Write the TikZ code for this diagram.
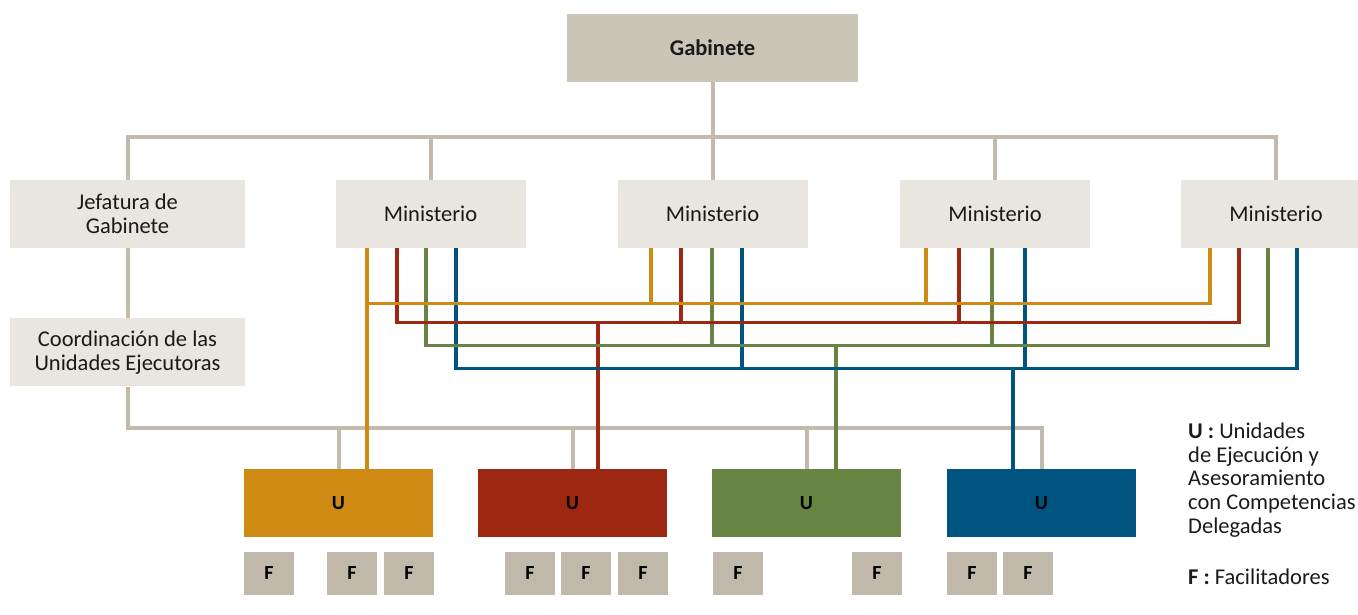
\documentclass[tikz,border=0pt]{standalone}
\usepackage{fontspec}
\setmainfont{Carlito}
\usetikzlibrary{positioning}
\definecolor{naranja}{HTML}{CF8A14}
\definecolor{rojo}{HTML}{9D2710}
\definecolor{verde}{HTML}{688443}
\definecolor{azul}{HTML}{005580}
\definecolor{gris}{HTML}{C2BBAD}
\definecolor{grisosc}{HTML}{CBC5B8}
\definecolor{grisclaro}{HTML}{E9E5DF}
\definecolor{grisF}{HTML}{C0B9AA}
\definecolor{texto}{HTML}{1A1A1A}

\begin{document}
\begin{tikzpicture}
            [
                x=1pt, y=-1pt,
                gabinete/.style={rectangle, fill=grisosc, minimum width=291pt, minimum height=68pt, inner sep=0pt, text=texto, font=\fontsize{22.5}{24}\selectfont\bfseries},
                caja/.style={rectangle, fill=grisclaro, minimum width=#1, minimum height=68pt, inner sep=0pt, align=center, text=texto, font=\fontsize{22.5}{23.5}\selectfont},
                caja/.default=190pt,
                unidad/.style={rectangle, fill=#1, minimum width=189pt, minimum height=68pt, inner sep=0pt, text=black, font=\fontsize{20}{22}\selectfont\bfseries},
                facil/.style={rectangle, fill=grisF, minimum width=50pt, minimum height=43pt, inner sep=0pt, text=black, font=\fontsize{20}{22}\selectfont\bfseries},
                leyenda/.style={anchor=west, align=left, inner sep=0pt, text=texto, font=\fontsize{22.5}{23.75}\selectfont},
                linea/.style={line width=4pt, draw=gris},
                lin-o/.style={line width=3.4pt, draw=naranja},
                lin-r/.style={line width=3.4pt, draw=rojo},
                lin-g/.style={line width=3.4pt, draw=verde},
                lin-b/.style={line width=3.4pt, draw=azul},
            ]
            \useasboundingbox (0,0) rectangle (1358,614);
            % gabinete
            \node[gabinete] (gab) at (712.5,48) {Gabinete};
            % jefatura y ministerios
            \node[caja=235pt] (jef) at (127.5,214) {Jefatura de\\Gabinete};
            \node[caja] (m1) at (430.5,214) {Ministerio};
            \node[caja] (m2) at (712.5,214) {Ministerio};
            \node[caja] (m3) at (995,214) {Ministerio};
            \node[caja] (m4) at (1276,214) {Ministerio};
            \node[caja=235pt, below=70pt of jef] (coord) {Coordinación de las\\Unidades Ejecutoras};
            % unidades
            \node[unidad=naranja] (u1) at (338.5,503) {U};
            \node[unidad=rojo] (u2) at (572.5,503) {U};
            \node[unidad=verde] (u3) at (806.5,503) {U};
            \node[unidad=azul] (u4) at (1041.5,503) {U};
            % facilitadores
            \foreach \x [count=\i] in {269,352,409,530,586,643,738,877,972,1028}
                \node[facil] (f\i) at (\x,573) {F};
            % leyenda
            \node[leyenda] (leyU) at (1188,480) {\textbf{U :} Unidades\\de Ejecución y\\Asesoramiento\\con Competencias\\Delegadas};
            \node[leyenda] (leyF) at (1188,577) {\textbf{F :} Facilitadores};

            % barras
            \coordinate (barra-t) at (0,136.5);
            \coordinate (barra-u) at (0,428);
            \coordinate (bus-o) at (0,303.5);
            \coordinate (bus-r) at (0,322.5);
            \coordinate (bus-g) at (0,345.5);
            \coordinate (bus-b) at (0,368.5);
            % tomas de cada ministerio
            \foreach \m/\xo/\xr/\xg/\xb in {m1/-63.5/-33.5/-4.5/25.5, m2/-61.5/-31.5/-0.5/29.5, m3/-69/-36/-3/30, m4/-66/-37/-8/21}{
                \coordinate (\m-o) at ([xshift=\xo]\m.south);
                \coordinate (\m-r) at ([xshift=\xr]\m.south);
                \coordinate (\m-g) at ([xshift=\xg]\m.south);
                \coordinate (\m-b) at ([xshift=\xb]\m.south);
            }
            \coordinate (baja-o) at ([xshift=28.5]u1.north);
            \coordinate (baja-r) at ([xshift=25.5]u2.north);
            \coordinate (baja-g) at ([xshift=29.5]u3.north);
            \coordinate (baja-b) at ([xshift=-28.5]u4.north);

            % arbol gris
            \draw[linea] (gab.south) -- (gab.south |- barra-t);
            \draw[linea, line cap=rect] (jef.north |- barra-t) -- (m4.north |- barra-t);
            \foreach \n in {jef,m1,m2,m3,m4}
                \draw[linea] (\n.north) -- (\n.north |- barra-t);
            \draw[linea] (jef.south) -- (coord.north);
            \draw[linea] (coord.south) -- (coord.south |- barra-u);
            \draw[linea, line cap=rect] (coord.south |- barra-u) -- (u4.north |- barra-u);
            \foreach \n in {u1,u2,u3,u4}
                \draw[linea] (\n.north) -- (\n.north |- barra-u);

            % lineas de color
            \foreach \c in {o,r,g,b}{
                \foreach \m in {m1,m2,m3,m4}
                    \draw[lin-\c] (\m-\c) -- (\m-\c |- bus-\c);
                \draw[lin-\c] (baja-\c) -- (baja-\c |- bus-\c);
            }
            \foreach \c in {o,r,g,b}
                \draw[lin-\c, line cap=rect] (m1-\c |- bus-\c) -- (m4-\c |- bus-\c);
        \end{tikzpicture}
\end{document}
